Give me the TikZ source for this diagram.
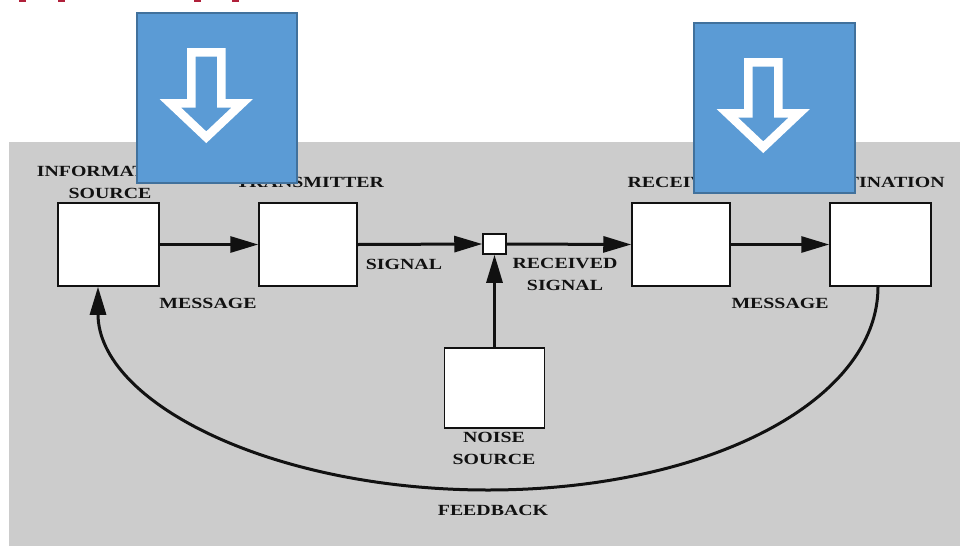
\documentclass[tikz,border=0pt]{standalone}
\usepackage{fontspec}
\newfontfamily\lblfont[FakeStretch=1.28]{Liberation Serif}
\usetikzlibrary{arrows.meta,calc}
\definecolor{bgray}{HTML}{CCCCCC}
\definecolor{bluefill}{HTML}{5B9BD5}
\definecolor{blueedge}{HTML}{41719C}
\definecolor{redmark}{HTML}{B0203A}
\definecolor{ink}{HTML}{111111}
\tikzset{
  box/.style={draw=ink, fill=white, line width=1.5pt, inner sep=0pt},
  lbl/.style={font=\lblfont\bfseries\fontsize{15.5}{22}\selectfont, text=ink, inner sep=0pt, align=center},
  conn/.style={draw=ink, line width=3pt, -{Triangle[length=28pt,width=16pt]}},
  bluebox/.style={draw=blueedge, fill=bluefill, line width=1.5pt, minimum width=160pt, minimum height=170pt, inner sep=0pt},
  pics/downarrow/.style={code={
    \draw[white, line width=8.5pt, line join=miter]
      (55,40) -- (85,40) -- (85,91) -- (106,91) -- (70,125) -- (34,91) -- (55,91) -- cycle;
  }}
}
\begin{document}
\begin{tikzpicture}[x=1pt,y=-1pt]
\useasboundingbox (0,0) rectangle (960,546);
\fill[white] (0,0) rectangle (960,546);
% red remnants of cut-off title
\foreach \xa in {19,58,194,232}{\fill[redmark] (\xa,0) rectangle (\xa+7,1.8);}
% gray panel
\fill[bgray] (9,142) rectangle (960,546);

% boxes
\node[box, minimum width=101pt, minimum height=83pt] (info) at (108.5,244.5) {};
\node[box, minimum width=98pt, minimum height=83pt] (tx) at (308,244.5) {};
\node[box, minimum width=23pt, minimum height=20pt] (sq) at (494.5,244) {};
\node[box, minimum width=98pt, minimum height=83pt] (rx) at (681,244.5) {};
\node[box, minimum width=101pt, minimum height=83pt] (dst) at (880.5,244.5) {};
\node[box, minimum width=100pt, minimum height=80pt] (noise) at (494.5,388) {};

% connectors
\draw[conn] (info.east) -- (tx.west);
\draw[conn] (tx.east) -- (sq.west);
\draw[conn] (sq.east) -- (rx.west);
\draw[conn] (rx.east) -- (dst.west);
\draw[conn] (noise.north) -- (sq.south);
\coordinate (fb) at (488,490);
\draw[conn] ([xshift=-2.5pt]dst.south) .. controls +(0,115) and +(218,0) .. (fb)
  .. controls +(-218,0) and +(0,115) .. ([xshift=-10.5pt]info.south);

% labels
\node[lbl] (linfo) at (110,182) {INFORMATION\\SOURCE};
\node[lbl] (ltx) at (310,182) {TRANSMITTER};
\node[lbl] (lrx) at (680,182) {RECEIVER};
\node[lbl] (ldst) at (876,182) {DESTINATION};
\node[lbl] (lsig) at (404,264) {SIGNAL};
\node[lbl] (lmsg1) at (208,303) {MESSAGE};
\node[lbl] (lrsig) at (565,274) {RECEIVED\\SIGNAL};
\node[lbl] (lmsg2) at (780,303) {MESSAGE};
\node[lbl] (lnoise) at (494,448.5) {NOISE\\SOURCE};
\node[lbl] (lfb) at (493,510) {FEEDBACK};

% blue overlay boxes with down arrows
\node[bluebox] (bl) at (217,98) {};
\node[bluebox, minimum width=161pt] (br) at (774.5,108) {};
\pic[shift={(bl.north west)}] {downarrow};
\pic[shift={(br.north west)}] {downarrow};
\end{tikzpicture}
\end{document}
